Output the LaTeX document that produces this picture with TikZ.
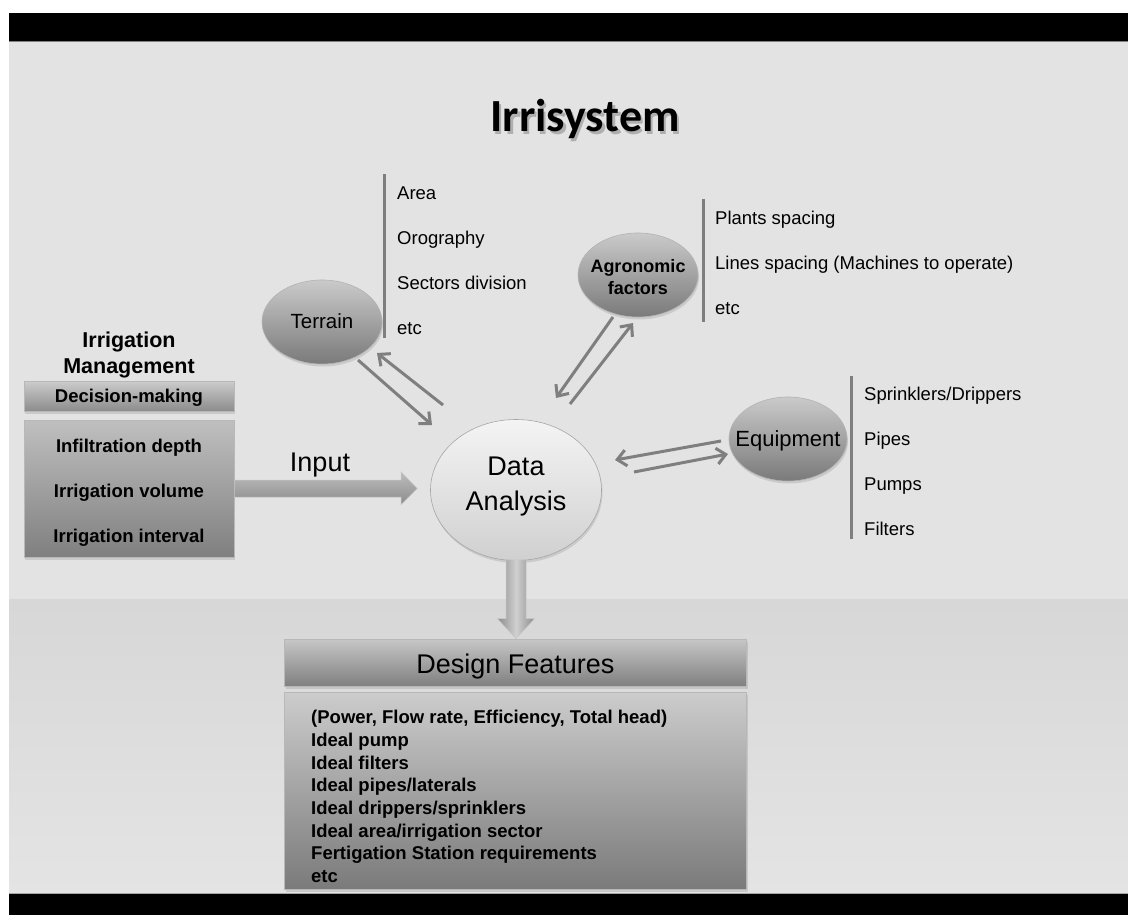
\documentclass[tikz,border=0pt]{standalone}
\usepackage{fontspec}
\setmainfont{Liberation Sans}
\newfontfamily\calib{Carlito}
\usetikzlibrary{arrows.meta,shadows,shapes.geometric,calc}
\definecolor{bgtop}{HTML}{E3E3E3}
\definecolor{bglowA}{HTML}{D7D7D7}
\definecolor{bglowB}{HTML}{E4E4E4}
\definecolor{lnc}{HTML}{7F7F7F}
\definecolor{ovA}{HTML}{CACACA}
\definecolor{ovB}{HTML}{7A7A7A}
\definecolor{daA}{HTML}{F4F4F4}
\definecolor{daB}{HTML}{D0D0D0}
\definecolor{bxA}{HTML}{C6C6C6}
\definecolor{bxB}{HTML}{7C7C7C}
\definecolor{arA}{HTML}{BDBDBD}
\definecolor{arB}{HTML}{8C8C8C}
\definecolor{arM}{HTML}{D0D0D0}
\begin{document}
\begin{tikzpicture}[x=1pt,y=-1pt,
  item/.style={anchor=west,inner sep=0pt,text height=13.2pt,text depth=0pt,font=\fontsize{18.5}{22}\selectfont},
  bitem/.style={item,font=\bfseries\fontsize{18.5}{22}\selectfont},
  bar/.style={draw=lnc,line width=3pt},
  shad/.style={drop shadow={opacity=0.25,shadow xshift=1pt,shadow yshift=-2.5pt}},
  oval/.style={ellipse,draw=black!30,line width=0.6pt,top color=ovA,bottom color=ovB,inner sep=0pt,shad},
  gbox/.style={rectangle,draw=black!28,line width=0.6pt,inner sep=0pt,top color=bxA,bottom color=bxB,shad},
  dbl/.style={draw=lnc,line width=3pt,-{Straight Barb[length=9pt,width=16pt]}}
]
\useasboundingbox (0,0) rectangle (1128,915);
% background
\fill[white] (0,0) rectangle (1128,915);
\fill[black] (9,13) rectangle (1128,41);
\fill[bgtop] (9,41) rectangle (1128,599);
\shade[top color=bglowA,bottom color=bglowB] (9,599) rectangle (1128,894);
\fill[black] (9,894) rectangle (1128,915);
\draw[black!50,line width=1pt] (9,41.5) -- (1128,41.5);
\draw[black!35,line width=1pt] (9,893.5) -- (1128,893.5);

% title
\node[font=\calib\bfseries\fontsize{46}{50}\selectfont,text=black!40,opacity=0.7] (titlesh) at (587.5,121.5) {Irrisystem};
\node[font=\calib\bfseries\fontsize{46}{50}\selectfont] (title) at (585,119) {Irrisystem};

% left block
\node[font=\bfseries\fontsize{21.5}{26}\selectfont,align=center,inner sep=0pt] (im) at (129,355) {Irrigation\\Management};
\node[gbox,minimum width=210,minimum height=30,top color=black!20,bottom color=black!45] (dm) at (129,396) {};
\node[bitem,anchor=center] (dmT) at (dm) {Decision-making};
\node[gbox,minimum width=210,minimum height=137,top color=black!25,bottom color=black!50] (mb) at (129,488.5) {};
\node[bitem,anchor=center] (mb1) at (129,446) {Infiltration depth};
\node[bitem,anchor=center] (mb2) at (129,491) {Irrigation volume};
\node[bitem,anchor=center] (mb3) at (129,536) {Irrigation interval};

% ovals
\node[ellipse,draw=black!35,line width=0.6pt,top color=daA,bottom color=daB,minimum width=171,minimum height=141,inner sep=0pt,shad] (da) at (516,490) {};
\node[font=\fontsize{27}{35}\selectfont,align=center,inner sep=0pt] (daT) at (516,487) {Data\\Analysis};

\node[oval,minimum width=120,minimum height=84] (terr) at (322,322) {};
\node[font=\fontsize{20.5}{24}\selectfont,inner sep=0pt,text height=14.7pt,text depth=0pt] (terrT) at (322,321) {Terrain};

\node[oval,minimum width=120,minimum height=84] (agro) at (638,275) {};
\node[font=\bfseries\fontsize{18}{22}\selectfont,align=center,inner sep=0pt] (agroT) at (638,277) {Agronomic\\factors};

\node[oval,minimum width=118,minimum height=84] (eq) at (788,439) {};
\node[font=\fontsize{22}{26}\selectfont,inner sep=0pt,text height=15.8pt,text depth=0pt] (eqT) at (788,439) {Equipment};

% lists
\draw[bar] (384,174) -- (384,338);
\foreach \t [count=\i] in {Area,Orography,Sectors division,etc}
  \node[item] (tl\i) at (397,{148+45*\i}) {\t};
\draw[bar] (703,199) -- (703,322);
\foreach \t [count=\i] in {Plants spacing,Lines spacing (Machines to operate),etc}
  \node[item] (al\i) at (715,{173+45*\i}) {\t};
\draw[bar] (851,376) -- (851,539);
\foreach \t [count=\i] in {Sprinklers/Drippers,Pipes,Pumps,Filters}
  \node[item] (el\i) at (864,{349+45*\i}) {\t};

% design features
\node[gbox,minimum width=462,minimum height=47,top color=black!22,bottom color=black!50] (dfh) at (515.5,662.5) {};
\node[font=\fontsize{27}{30}\selectfont,inner sep=0pt,text height=19.3pt,text depth=0pt] (dfhT) at (515.5,664) {Design Features};
\node[gbox,minimum width=462,minimum height=197,top color=black!20,bottom color=black!52] (dfb) at (515.5,791) {};
\foreach \t [count=\i] in {{(Power, Flow rate, Efficiency, Total head)},Ideal pump,Ideal filters,Ideal pipes/laterals,Ideal drippers/sprinklers,Ideal area/irrigation sector,Fertigation Station requirements,etc}
  \node[bitem] (df\i) at (311,{717+22.7*(\i-1)}) {\t};

% input arrow
\coordinate (ia) at (mb.east);
\coordinate (ib) at ($(da.west)+(-13,-1.5)$);
\shade[top color=arA,bottom color=arB,draw=black!22,line width=0.5pt]
  ($(ia)+(0,-8.5)$) -- ($(ib)+(-16,-8.5)$) -- ($(ib)+(-16,-16.5)$) -- (ib)
  -- ($(ib)+(-16,16)$) -- ($(ib)+(-16,8.5)$) -- ($(ia)+(0,8.5)$) -- cycle;
\node[font=\fontsize{27}{30}\selectfont,inner sep=0pt,text height=19.3pt,text depth=0pt] (inp) at (320,462) {Input};

% down arrow
\coordinate (dtip) at (da.south |- dfh.north);
\shade[left color=arB,right color=arB,middle color=arM,draw=black!22,line width=0.5pt]
  ($(da.south)+(-10,-1)$) -- ($(dtip)+(-10,-20)$) -- ($(dtip)+(-18.5,-20)$) -- (dtip)
  -- ($(dtip)+(18.5,-20)$) -- ($(dtip)+(10,-20)$) -- ($(da.south)+(10,-1)$) -- cycle;

% double arrows
\draw[dbl] ($(terr)+(36,38)$) -- ($(da)+(-84,-65)$);
\draw[dbl] ($(da)+(-73,-85)$) -- ($(terr)+(55,31)$);
\draw[dbl] ($(agro)+(-25,42)$) -- ($(da)+(40,-92)$);
\draw[dbl] ($(da)+(54,-86)$) -- ($(agro)+(-5,48)$);
\draw[dbl] ($(eq)+(-67,2)$) -- ($(da)+(99,-30)$);
\draw[dbl] ($(da)+(118,-18)$) -- ($(eq)+(-60,15)$);
\end{tikzpicture}
\end{document}
